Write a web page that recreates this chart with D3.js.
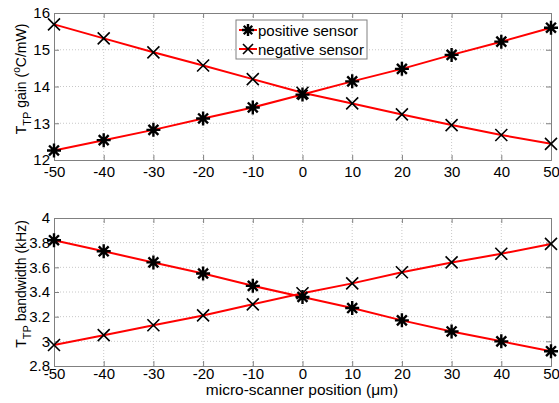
<!DOCTYPE html>
<html>
<head>
<meta charset="utf-8">
<script src="https://cdn.jsdelivr.net/npm/d3@7"></script>
<style>
  body { margin: 0; background: #fff; }
  text { font-family: Arial, "Liberation Sans", sans-serif; fill: #000; }
</style>
</head>
<body>
<div id="chart"></div>
<script>
(function(d3) {
    "use strict";

    var positions = [-50, -40, -30, -20, -10, 0, 10, 20, 30, 40, 50];
    var xTicks = [-50, -40, -30, -20, -10, 0, 10, 20, 30, 40, 50];

    // top panel: gain
    var gainPositive = [12.26, 12.54, 12.82, 13.13, 13.43, 13.78, 14.14, 14.48, 14.86, 15.22, 15.6];
    var gainNegative = [15.69, 15.31, 14.93, 14.57, 14.2, 13.83, 13.54, 13.24, 12.95, 12.68, 12.44];
    var gainTicks = [12, 13, 14, 15, 16];

    // bottom panel: bandwidth
    var bwPositive = [3.82, 3.73, 3.64, 3.55, 3.45, 3.36, 3.27, 3.17, 3.08, 3.0, 2.92];
    var bwNegative = [2.97, 3.05, 3.13, 3.21, 3.3, 3.39, 3.47, 3.56, 3.64, 3.71, 3.79];
    var bwTicks = [2.8, 3, 3.2, 3.4, 3.6, 3.8, 4];

    var legendLabels = ["positive sensor", "negative sensor"];

    var width = 559, height = 403;
    var left = 54, right = 551;

    var svg = d3.select("#chart").append("svg")
        .attr("width", width)
        .attr("height", height);

    var x = d3.scaleLinear().domain([-50, 50]).range([left, right]);

    var plainNum = function(d) { return String(+(+d).toFixed(1)); }; // hyphen minus like matlab

    function asterisk(g, cx, cy, r) {
        var p = d3.path();
        for (var k = 0; k < 4; k++) {
            var a = k * Math.PI / 4;
            p.moveTo(cx - r * Math.cos(a), cy - r * Math.sin(a));
            p.lineTo(cx + r * Math.cos(a), cy + r * Math.sin(a));
        }
        g.append("path").attr("d", p.toString())
            .attr("stroke", "#000").attr("stroke-width", 2.4).attr("fill", "none");
    }

    function cross(g, cx, cy, r) {
        var p = d3.path();
        p.moveTo(cx - r, cy - r); p.lineTo(cx + r, cy + r);
        p.moveTo(cx - r, cy + r); p.lineTo(cx + r, cy - r);
        g.append("path").attr("d", p.toString())
            .attr("stroke", "#000").attr("stroke-width", 1.6).attr("fill", "none");
    }

    function panel(top, bottom, yDomain, ticks, xPad, posVals, negVals) {
        var y = d3.scaleLinear().domain(yDomain).range([bottom, top]);
        var g = svg.append("g");

        // grid
        g.selectAll(".gx").data(xTicks.slice(1, -1)).enter().append("line")
            .attr("x1", function(d) { return x(d); }).attr("x2", function(d) { return x(d); })
            .attr("y1", top).attr("y2", bottom)
            .attr("stroke", "#c8c8c8").attr("stroke-width", 1).attr("stroke-dasharray", "1,2");
        g.selectAll(".gy").data(ticks.slice(1, -1)).enter().append("line")
            .attr("x1", left).attr("x2", right)
            .attr("y1", function(d) { return y(d); }).attr("y2", function(d) { return y(d); })
            .attr("stroke", "#c8c8c8").attr("stroke-width", 1).attr("stroke-dasharray", "1,2");

        // axes
        var xa = d3.axisBottom(x).tickValues(xTicks).tickSize(-5).tickPadding(xPad).tickFormat(plainNum);
        var xt = d3.axisTop(x).tickValues(xTicks).tickSize(-5).tickFormat("");
        var ya = d3.axisLeft(y).tickValues(ticks).tickSize(-5).tickPadding(4).tickFormat(plainNum);
        var yr = d3.axisRight(y).tickValues(ticks).tickSize(-5).tickFormat("");

        function style(sel) {
            sel.select(".domain").attr("stroke", "#808080");
            sel.selectAll(".tick line").attr("stroke", "#808080");
            sel.selectAll(".tick text").attr("font-size", 15)
                .attr("font-family", "Arial, 'Liberation Sans', sans-serif").attr("fill", "#000");
        }
        g.append("g").attr("transform", "translate(0," + bottom + ")").call(xa).call(style);
        g.append("g").attr("transform", "translate(0," + top + ")").call(xt).call(style);
        g.append("g").attr("transform", "translate(" + left + ",0)").call(ya).call(style);
        g.append("g").attr("transform", "translate(" + right + ",0)").call(yr).call(style);

        // red lines through the measured points
        var line = d3.line()
            .x(function(d, i) { return x(positions[i]); })
            .y(function(d) { return y(d); });
        [posVals, negVals].forEach(function(vals) {
            g.append("path").datum(vals).attr("d", line)
                .attr("fill", "none").attr("stroke", "#ff0000").attr("stroke-width", 2);
        });

        // markers
        positions.forEach(function(p, i) {
            asterisk(g, x(p), y(posVals[i]), 7);
            cross(g, x(p), y(negVals[i]), 6);
        });
        return g;
    }

    panel(13, 160, [12, 16], gainTicks, 6, gainPositive, gainNegative);
    panel(218, 366, [2.8, 4], bwTicks, 2, bwPositive, bwNegative);

    // y labels
    var yl1 = svg.append("text")
        .attr("transform", "translate(26,79) rotate(-90)")
        .attr("text-anchor", "middle").attr("font-size", 14);
    yl1.append("tspan").text("T");
    yl1.append("tspan").attr("font-size", 11).attr("dy", 5).text("TP");
    yl1.append("tspan").attr("dy", -5).text(" gain (");
    yl1.append("tspan").attr("font-size", 10).attr("dy", -6).text("o");
    yl1.append("tspan").attr("dy", 6).text("C/mW)");

    var yl2 = svg.append("text")
        .attr("transform", "translate(26,284) rotate(-90)")
        .attr("text-anchor", "middle").attr("font-size", 14);
    yl2.append("tspan").text("T");
    yl2.append("tspan").attr("font-size", 11).attr("dy", 5).text("TP");
    yl2.append("tspan").attr("dy", -5).text(" bandwidth (kHz)");

    svg.append("text")
        .attr("x", 302).attr("y", 395)
        .attr("text-anchor", "middle").attr("font-size", 15.5)
        .text("micro-scanner position (\u03bcm)");

    // legend
    var lg = svg.append("g");
    lg.append("rect").attr("x", 236).attr("y", 20).attr("width", 131).attr("height", 39)
        .attr("fill", "#fff").attr("stroke", "#808080").attr("stroke-width", 1);
    legendLabels.forEach(function(lab, i) {
        var cy = 30 + i * 19;
        lg.append("line").attr("x1", 239).attr("x2", 257).attr("y1", cy).attr("y2", cy)
            .attr("stroke", "#ff0000").attr("stroke-width", 2);
        if (i === 0) asterisk(lg, 248, cy, 6); else cross(lg, 248, cy, 5);
        lg.append("text").attr("x", 258).attr("y", cy + 5.5).attr("font-size", 15).text(lab);
    });

})(d3);
</script>
</body>
</html>
